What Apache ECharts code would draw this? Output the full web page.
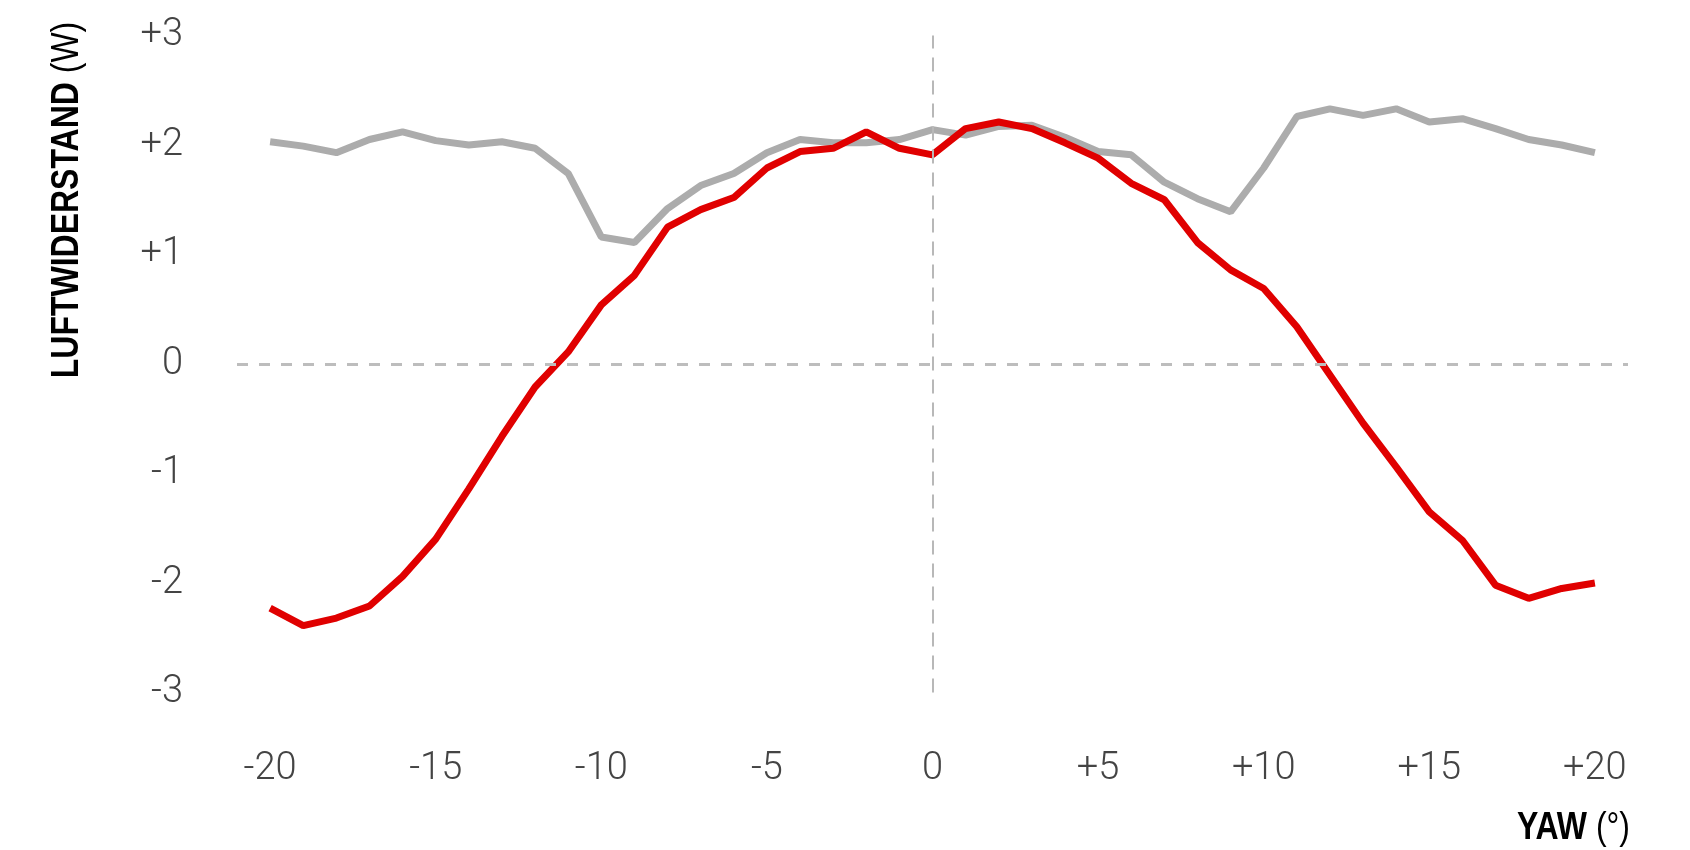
<!DOCTYPE html>
<html>
<head>
<meta charset="utf-8">
<title>Luftwiderstand / Yaw</title>
<script src="https://cdn.jsdelivr.net/npm/echarts@6/dist/echarts.min.js"></script>
<style>
    html, body { margin: 0; padding: 0; background: #fff; }
    #main { width: 1690px; height: 850px; }
</style>
</head>
<body>
<div id="main"></div>
<script>
// 横轴：偏航角 (°)
const yawDeg = [-20, -19, -18, -17, -16, -15, -14, -13, -12, -11, -10, -9, -8, -7, -6, -5, -4, -3, -2, -1,
    0, 1, 2, 3, 4, 5, 6, 7, 8, 9, 10, 11, 12, 13, 14, 15, 16, 17, 18, 19, 20];
// 灰线
const grayVals = [2.03, 1.99, 1.93, 2.05, 2.12, 2.04, 2.00, 2.03, 1.97, 1.74, 1.16, 1.11, 1.42, 1.63, 1.74, 1.93, 2.05, 2.02, 2.02, 2.05,
    2.14, 2.09, 2.17, 2.18, 2.07, 1.94, 1.91, 1.66, 1.51, 1.39, 1.79, 2.26, 2.33, 2.27, 2.33, 2.21, 2.24, 2.15, 2.05, 2.00, 1.93];
// 红线
const redVals = [-2.23, -2.39, -2.32, -2.21, -1.94, -1.60, -1.14, -0.66, -0.21, 0.11, 0.54, 0.81, 1.25, 1.41, 1.52, 1.79, 1.94, 1.97, 2.12, 1.97,
    1.91, 2.15, 2.21, 2.15, 2.02, 1.88, 1.65, 1.50, 1.11, 0.86, 0.69, 0.34, -0.10, -0.54, -0.94, -1.35, -1.61, -2.02, -2.14, -2.05, -2.00];
// 刻度标签
const xTickValues = [-20, -15, -10, -5, 0, 5, 10, 15, 20];
const yTickValues = [-3, -2, -1, 0, 1, 2, 3];

const signed = function(v) {
    return v > 0 ? '+' + v : String(v);
};

const drawChart = function(id) {
    let myChart = echarts.init(document.getElementById(id));

    let grayData = [];
    let redData = [];
    for (let i = 0; i < yawDeg.length; i++) {
        grayData.push([yawDeg[i], grayVals[i]]);
        redData.push([yawDeg[i], redVals[i]]);
    }

    const labelStyle = {
        color: '#444',
        fontFamily: 'Roboto',
        fontWeight: 300,
        fontSize: 38
    };

    // 标题字体：窄体（用 scaleX 压缩）
    const nameRich = {
        b: { fontFamily: 'Liberation Sans', fontWeight: 'bold', fontSize: 39, fill: '#000', color: '#000' },
        n: { fontFamily: 'Liberation Sans', fontWeight: 'normal', fontSize: 39, fill: '#000', color: '#000' }
    };

    let option = {
        animation: false,
        backgroundColor: '#fff',
        grid: {
            left: 237,
            right: 62,
            top: 35.5,
            bottom: 157.5
        },
        xAxis: {
            type: 'value',
            min: -21,
            max: 21,
            interval: 1,
            axisLine: { show: false },
            axisTick: { show: false },
            splitLine: { show: false },
            axisLabel: Object.assign({
                margin: 58,
                formatter: function(v) {
                    return xTickValues.indexOf(v) >= 0 ? signed(v) : '';
                }
            }, labelStyle)
        },
        yAxis: {
            type: 'value',
            min: -3,
            max: 3,
            interval: 1,
            axisLine: { show: false },
            axisTick: { show: false },
            splitLine: { show: false },
            axisLabel: Object.assign({
                margin: 54,
                formatter: function(v) {
                    return yTickValues.indexOf(v) >= 0 ? signed(v) : '';
                }
            }, labelStyle)
        },
        graphic: [{
            type: 'text',
            x: 67,
            y: 200,
            rotation: Math.PI / 2,
            scaleX: 0.82,
            style: {
                text: '{b|LUFTWIDERSTAND}{n| (W)}',
                align: 'center',
                verticalAlign: 'middle',
                rich: nameRich
            }
        }, {
            type: 'text',
            x: 1630,
            y: 828,
            scaleX: 0.82,
            style: {
                text: '{b|YAW}{n| (°)}',
                align: 'right',
                verticalAlign: 'middle',
                rich: nameRich
            }
        }],
        series: [{
            name: 'grau',
            type: 'line',
            data: grayData,
            symbol: 'none',
            lineStyle: { color: '#acacac', width: 7 },
            z: 3,
            markLine: {
                silent: true,
                symbol: 'none',
                label: { show: false },
                data: [{
                    xAxis: 0,
                    lineStyle: { color: '#b8b8b8', width: 2, type: [14, 9] }
                }, {
                    yAxis: 0,
                    lineStyle: { color: '#bdbdbd', width: 3, type: [11, 11] }
                }]
            }
        }, {
            name: 'rot',
            type: 'line',
            data: redData,
            symbol: 'none',
            lineStyle: { color: '#e00000', width: 7 },
            z: 4
        }]
    };

    myChart.setOption(option);

    window.addEventListener("resize", function() {
        myChart.resize();
    });
};

drawChart('main');
</script>
</body>
</html>
